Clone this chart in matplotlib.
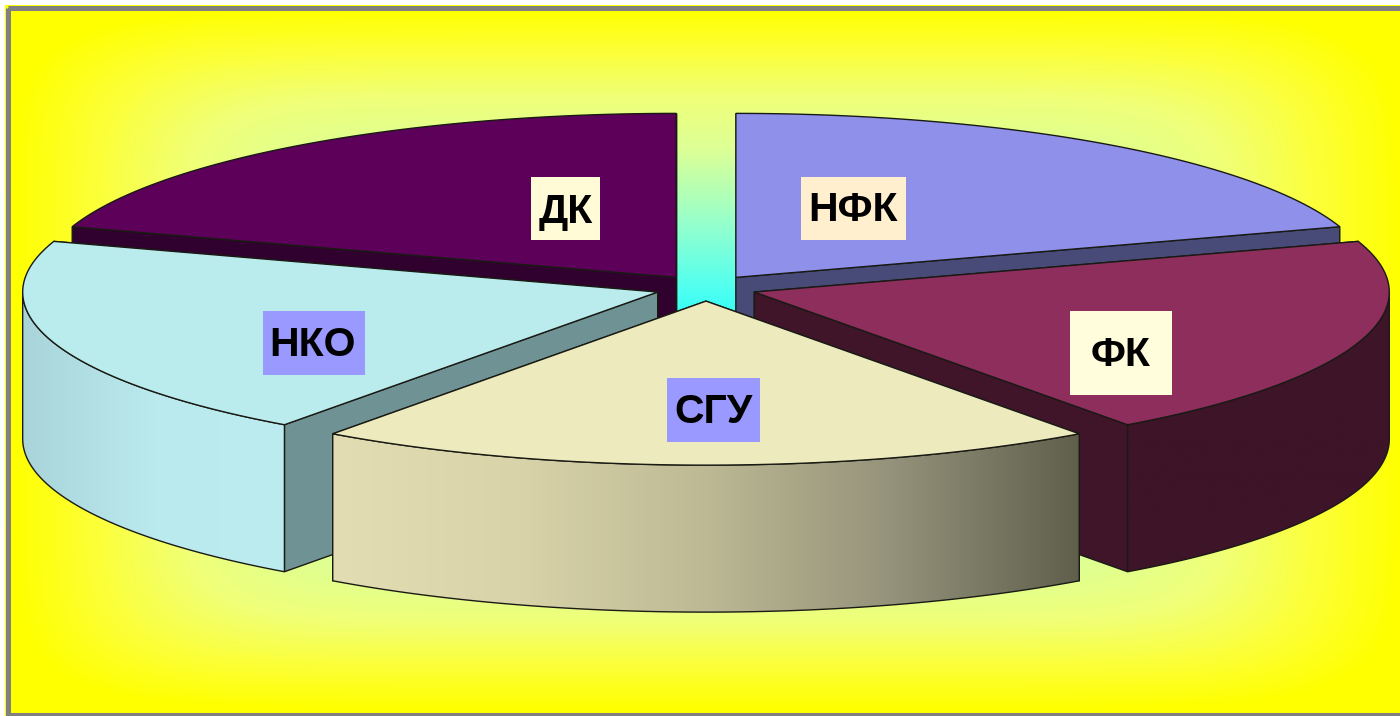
"""Exploded 3D-look pie chart drawn by hand on a pixel-sized axes."""

import matplotlib

matplotlib.use("Agg")

import matplotlib.pyplot as plt
import numpy as np
from matplotlib.colors import LinearSegmentedColormap, to_rgb
from matplotlib.patches import Polygon, Rectangle

# Data: clockwise from 12 o'clock
labels = ["НФК", "ФК", "СГУ", "НКО", "ДК"]
shares = [20, 20, 20, 20, 20]
explode = [0.08, 0.08, 0.08, 0.08, 0.08]

# Styles
top_colors = ["#8E90EA", "#8E2E5C", "#EDEBBE", "#BAECEE", "#5C0059"]
cut_colors = ["#484A78", "#40152A", "#77775E", "#6F9294", "#30002E"]
wall_stops = [
    ["#484A78", "#484A78"],
    ["#3E1428", "#3E1428"],
    ["#E2DDB2", "#D8D3A8", "#BDB994", "#94927A", "#5F5F4C"],
    ["#A9D5DA", "#BAE9EE", "#BCECF0"],
    ["#30002E", "#30002E"],
]
box_colors = ["#FFEFCF", "#FFFDDC", "#9999FF", "#9999FF", "#FFFBD6"]
# left, top, right, bottom of each label box, text centre
box_xyxy = [
    (801, 177, 906, 240),
    (1070, 311, 1172, 395),
    (667, 378, 760, 442),
    (263, 311, 365, 375),
    (531, 177, 600, 240),
]
text_xy = [(853, 210), (1121, 355), (713, 412), (313, 345), (566, 212)]

# Projection of the pie on the picture, in pixels
CX, CY = 706, 288
RX, RY = 635, 164
DEPTH = 147
EDGE = "#1a1a14"

fig = plt.figure(figsize=(14, 7.16), dpi=100)
ax = fig.add_axes([0, 0, 1, 1])
ax.axis("off")

# Rectangular path gradient behind the pie
xx, yy = np.meshgrid(np.arange(0, 1400, 2), np.arange(0, 716, 2))
t = ((np.abs(xx - 706) / 695.0) ** 8 + (np.abs(yy - 358) / 350.0) ** 8) ** (1 / 8)
bg_cmap = LinearSegmentedColormap.from_list(
    "bg",
    [
        (0.0, "#0AFFFF"),
        (0.2, "#50FFF0"),
        (0.37, "#90FFD0"),
        (0.6, "#DCFF96"),
        (0.75, "#F0FF78"),
        (0.88, "#FCFF38"),
        (1.0, "#FFFF00"),
    ],
)
ax.imshow(np.clip(t, 0, 1), cmap=bg_cmap, vmin=0, vmax=1, extent=(0, 1400, 716, 0), aspect="auto", zorder=0)

# Grey frame, open on the right as in the picture
ax.add_patch(Rectangle((7.5, 7.5), 1400, 707, fill=False, ec="#808080", lw=3.6, zorder=1))
ax.add_patch(Rectangle((0, 0), 5, 716, fc="white", ec="none", zorder=1))
ax.add_patch(Rectangle((0, 0), 1400, 5, fc="white", ec="none", zorder=1))


def rim(ax0, ay0, a0, a1, n=60):
    """Points of the rim between two angles in degrees."""
    ang = np.radians(np.linspace(a0, a1, n))
    return np.column_stack([ax0 + RX * np.cos(ang), ay0 - RY * np.sin(ang)])


def gradient_wall(points, stops, zorder):
    """Fill a polygon with a left to right gradient."""
    x0, x1 = points[:, 0].min(), points[:, 0].max()
    y0, y1 = points[:, 1].min(), points[:, 1].max()
    cmap = LinearSegmentedColormap.from_list("wall", [to_rgb(c) for c in stops])
    im = ax.imshow(np.linspace(0, 1, 256)[None, :], cmap=cmap, extent=(x0, x1, y1, y0), aspect="auto", zorder=zorder)
    im.set_clip_path(Polygon(points, closed=True, transform=ax.transData))
    ax.add_patch(Polygon(points, closed=True, fill=False, ec=EDGE, lw=1.0, zorder=zorder + 0.1))


# Slice angles from the shares, clockwise from 90 degrees
edges = 90 - np.cumsum([0] + shares) / float(sum(shares)) * 360
mids = (edges[:-1] + edges[1:]) / 2

# Back slices first
order = np.argsort(-np.sin(np.radians(mids)))
for rank, i in enumerate(order):
    z = 2 + rank
    a1, a0 = edges[i], edges[i + 1]
    m = np.radians(mids[i])
    ax0 = CX + explode[i] * RX * np.cos(m)
    ay0 = CY - explode[i] * RY * np.sin(m)
    arc = rim(ax0, ay0, a0, a1)
    apex = np.array([ax0, ay0])

    # Cut faces, the one further back first
    for end in sorted((arc[0], arc[-1]), key=lambda p: p[1]):
        face = np.array([apex, end, end + [0, DEPTH], apex + [0, DEPTH]])
        ax.add_patch(Polygon(face, closed=True, fc=cut_colors[i], ec=EDGE, lw=1.0, zorder=z))

    # Outer wall, only the part that faces the viewer
    lo = max(a0 % 360, 180)
    hi = min(a0 % 360 + (a1 - a0), 360)
    if hi > lo:
        top = rim(ax0, ay0, lo, hi)
        wall = np.vstack([top, (top + [0, DEPTH])[::-1]])
        gradient_wall(wall, wall_stops[i], z + 0.2)

    # Top face
    ax.add_patch(Polygon(np.vstack([apex, arc]), closed=True, fc=top_colors[i], ec=EDGE, lw=1.0, zorder=z + 0.5))

# Labels with their coloured boxes
for i, label in enumerate(labels):
    x0, y0, x1, y1 = box_xyxy[i]
    ax.add_patch(Rectangle((x0, y0), x1 - x0, y1 - y0, fc=box_colors[i], ec="none", zorder=10))
    ax.text(
        text_xy[i][0], text_xy[i][1], label,
        family="Liberation Sans", fontweight="bold", fontsize=29.5, color="black",
        ha="center", va="center", zorder=11,
    )

ax.set_xlim(0, 1400)
ax.set_ylim(716, 0)
fig.savefig("out.png", dpi=100)
plt.close(fig)
